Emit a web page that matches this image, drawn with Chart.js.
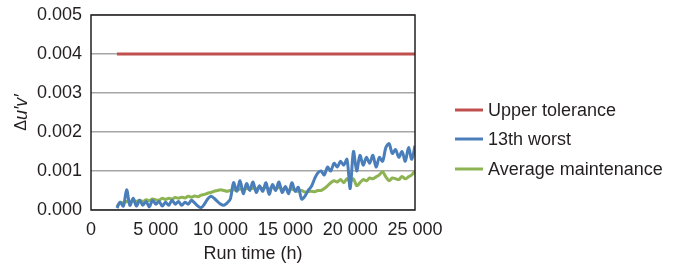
<!DOCTYPE html>
<html>
<head>
<meta charset="utf-8">
<script src="https://cdn.jsdelivr.net/npm/chart.js@4/dist/chart.umd.min.js"></script>
<style>
  html, body { margin: 0; padding: 0; background: #fff; }
  #wrap { width: 681px; height: 265px; position: relative; }
</style>
</head>
<body>
<div id="wrap"><canvas id="chart" width="681" height="265"></canvas></div>
<script>
// run time (h)
var runTime = [
  2000, 2250, 2500, 2750, 3000, 3250, 3500, 3750, 4000, 4250, 4500, 4750,
  5000, 5250, 5500, 5750, 6000, 6250, 6500, 6750, 7000, 7250, 7500, 7750,
  8000, 8250, 8500, 8750, 9000, 9250, 9500, 9750, 10000, 10250, 10500, 10750,
  11000, 11250, 11500, 11750, 12000, 12250, 12500, 12750, 13000, 13250, 13500, 13750,
  14000, 14250, 14500, 14750, 15000, 15250, 15500, 15750, 16000, 16250, 16500, 16750,
  17000, 17250, 17500, 17750, 18000, 18250, 18500, 18750, 19000, 19250, 19500, 19750,
  20000, 20250, 20500, 20750, 21000, 21250, 21500, 21750, 22000, 22250, 22500, 22750,
  23000, 23250, 23500, 23750, 24000, 24250, 24500, 24750, 25000
];

var worst13 = [
  0.00005, 0.00020, 0.00010, 0.00052, 0.00012, 0.00030, 0.00010, 0.00025, 0.00012, 0.00022, 0.00008, 0.00025,
  0.00015, 0.00022, 0.00010, 0.00020, 0.00012, 0.00025, 0.00015, 0.00022, 0.00012, 0.00020, 0.00015, 0.00025,
  0.00018, 0.00010, 0.00006, 0.00015, 0.00028, 0.00035, 0.00030, 0.00022, 0.00015, 0.00012, 0.00018, 0.00028,
  0.00070, 0.00048, 0.00075, 0.00042, 0.00068, 0.00050, 0.00072, 0.00045, 0.00062, 0.00048, 0.00070, 0.00040,
  0.00065, 0.00050, 0.00072, 0.00045, 0.00060, 0.00042, 0.00070, 0.00048, 0.00058, 0.00028, 0.00035, 0.00050,
  0.00060, 0.00080, 0.00095, 0.00100, 0.00090, 0.00110, 0.00100, 0.00120, 0.00110, 0.00125, 0.00115, 0.00130,
  0.00055, 0.00150, 0.00100, 0.00140, 0.00115, 0.00135, 0.00120, 0.00140, 0.00110, 0.00135, 0.00125, 0.00160,
  0.00170, 0.00145, 0.00155, 0.00135, 0.00150, 0.00125, 0.00160, 0.00130, 0.00165
];

var avgMaint = [
  0.00008, 0.00020, 0.00018, 0.00022, 0.00020, 0.00024, 0.00022, 0.00025, 0.00022, 0.00026, 0.00024, 0.00028,
  0.00026, 0.00025, 0.00030, 0.00027, 0.00030, 0.00028, 0.00032, 0.00030, 0.00033, 0.00031, 0.00035, 0.00033,
  0.00036, 0.00034, 0.00038, 0.00040, 0.00043, 0.00045, 0.00048, 0.00050, 0.00052, 0.00050, 0.00048, 0.00050,
  0.00052, 0.00050, 0.00054, 0.00052, 0.00055, 0.00053, 0.00056, 0.00054, 0.00057, 0.00055, 0.00058, 0.00054,
  0.00060, 0.00055, 0.00058, 0.00053, 0.00055, 0.00050, 0.00054, 0.00050, 0.00048, 0.00050, 0.00046, 0.00047,
  0.00048, 0.00047, 0.00050, 0.00050, 0.00055, 0.00062, 0.00070, 0.00075, 0.00072, 0.00078, 0.00070, 0.00080,
  0.00072, 0.00080, 0.00062, 0.00070, 0.00078, 0.00075, 0.00082, 0.00080, 0.00085, 0.00090, 0.00098, 0.00085,
  0.00075, 0.00082, 0.00080, 0.00078, 0.00086, 0.00080, 0.00085, 0.00090, 0.00100
];

var toleranceTime = [2000, 25000];
var toleranceValue = [0.004, 0.004];

var seriesNames = ['Upper tolerance', '13th worst', 'Average maintenance'];
var seriesColors = ['#C0504D', '#4A7EBB', '#8DB353'];

function pairs(xs, ys) {
  return xs.map(function(x, i) { return { x: x, y: ys[i] }; });
}

var FONT = 'Liberation Sans, Arial, sans-serif';
var TEXT = '#231F20';

// box round the plot, y title and the legend on the right
var extras = {
  id: 'extras',
  afterDraw: function(chart) {
    var ctx = chart.ctx, a = chart.chartArea;
    ctx.save();
    ctx.strokeStyle = '#231F20';
    ctx.lineWidth = 1.5;
    ctx.strokeRect(a.left, a.top, a.right - a.left, a.bottom - a.top);

    // Δu′v′
    ctx.translate(22, (a.top + a.bottom) / 2);
    ctx.rotate(-Math.PI / 2);
    ctx.fillStyle = TEXT;
    ctx.textBaseline = 'middle';
    ctx.font = '16px ' + FONT;
    var w1 = ctx.measureText('Δ').width;
    ctx.font = 'italic 18px ' + FONT;
    var w2 = ctx.measureText('u′v′').width;
    var sx = -(w1 + w2) / 2;
    ctx.font = '16px ' + FONT;
    ctx.fillText('Δ', sx, 0);
    ctx.font = 'italic 18px ' + FONT;
    ctx.fillText('u′v′', sx + w1, 0);
    ctx.restore();

    ctx.save();
    var ys = [110, 139, 169];
    chart.data.datasets.forEach(function(ds, i) {
      ctx.strokeStyle = ds.borderColor;
      ctx.lineWidth = 3;
      ctx.beginPath();
      ctx.moveTo(455, ys[i]);
      ctx.lineTo(483, ys[i]);
      ctx.stroke();
      ctx.fillStyle = TEXT;
      ctx.font = '18px ' + FONT;
      ctx.textBaseline = 'middle';
      ctx.fillText(ds.label, 488, ys[i] + 1);
    });
    ctx.restore();
  }
};

new Chart(document.getElementById('chart'), {
  type: 'line',
  data: {
    datasets: [
      { label: seriesNames[0], data: pairs(toleranceTime, toleranceValue), borderColor: seriesColors[0], borderWidth: 3 },
      { label: seriesNames[1], data: pairs(runTime, worst13), borderColor: seriesColors[1], borderWidth: 3, tension: 0.3 },
      { label: seriesNames[2], data: pairs(runTime, avgMaint), borderColor: seriesColors[2], borderWidth: 3, tension: 0.3 }
    ]
  },
  options: {
    responsive: false,
    animation: false,
    layout: { padding: { left: 0, right: 266, top: 15, bottom: 0 } },
    elements: { point: { radius: 0 } },
    plugins: { legend: { display: false }, tooltip: { enabled: false } },
    scales: {
      x: {
        type: 'linear',
        min: 0,
        max: 25000,
        grid: { display: false, drawTicks: false },
        border: { display: false },
        ticks: {
          stepSize: 5000,
          maxRotation: 0,
          padding: 9,
          color: TEXT,
          font: { family: FONT, size: 18 },
          callback: function(v) { return String(v).replace(/\B(?=(\d{3})+(?!\d))/g, ' '); }
        },
        title: { display: true, text: 'Run time (h)', color: TEXT, font: { family: FONT, size: 18 }, padding: { top: 2, bottom: 0 } },
        afterFit: function(s) { s.height = 55; s.paddingLeft = 0; s.paddingRight = 0; }
      },
      y: {
        min: 0,
        max: 0.005,
        grid: { color: '#A6A6A6', lineWidth: 1.5, drawTicks: false },
        border: { display: false },
        ticks: {
          stepSize: 0.001,
          padding: 9,
          color: TEXT,
          font: { family: FONT, size: 18 },
          callback: function(v) { return v.toFixed(3); }
        },
        afterFit: function(s) { s.width = 91; s.paddingTop = 0; s.paddingBottom = 0; }
      }
    }
  },
  plugins: [extras]
});
</script>
</body>
</html>
